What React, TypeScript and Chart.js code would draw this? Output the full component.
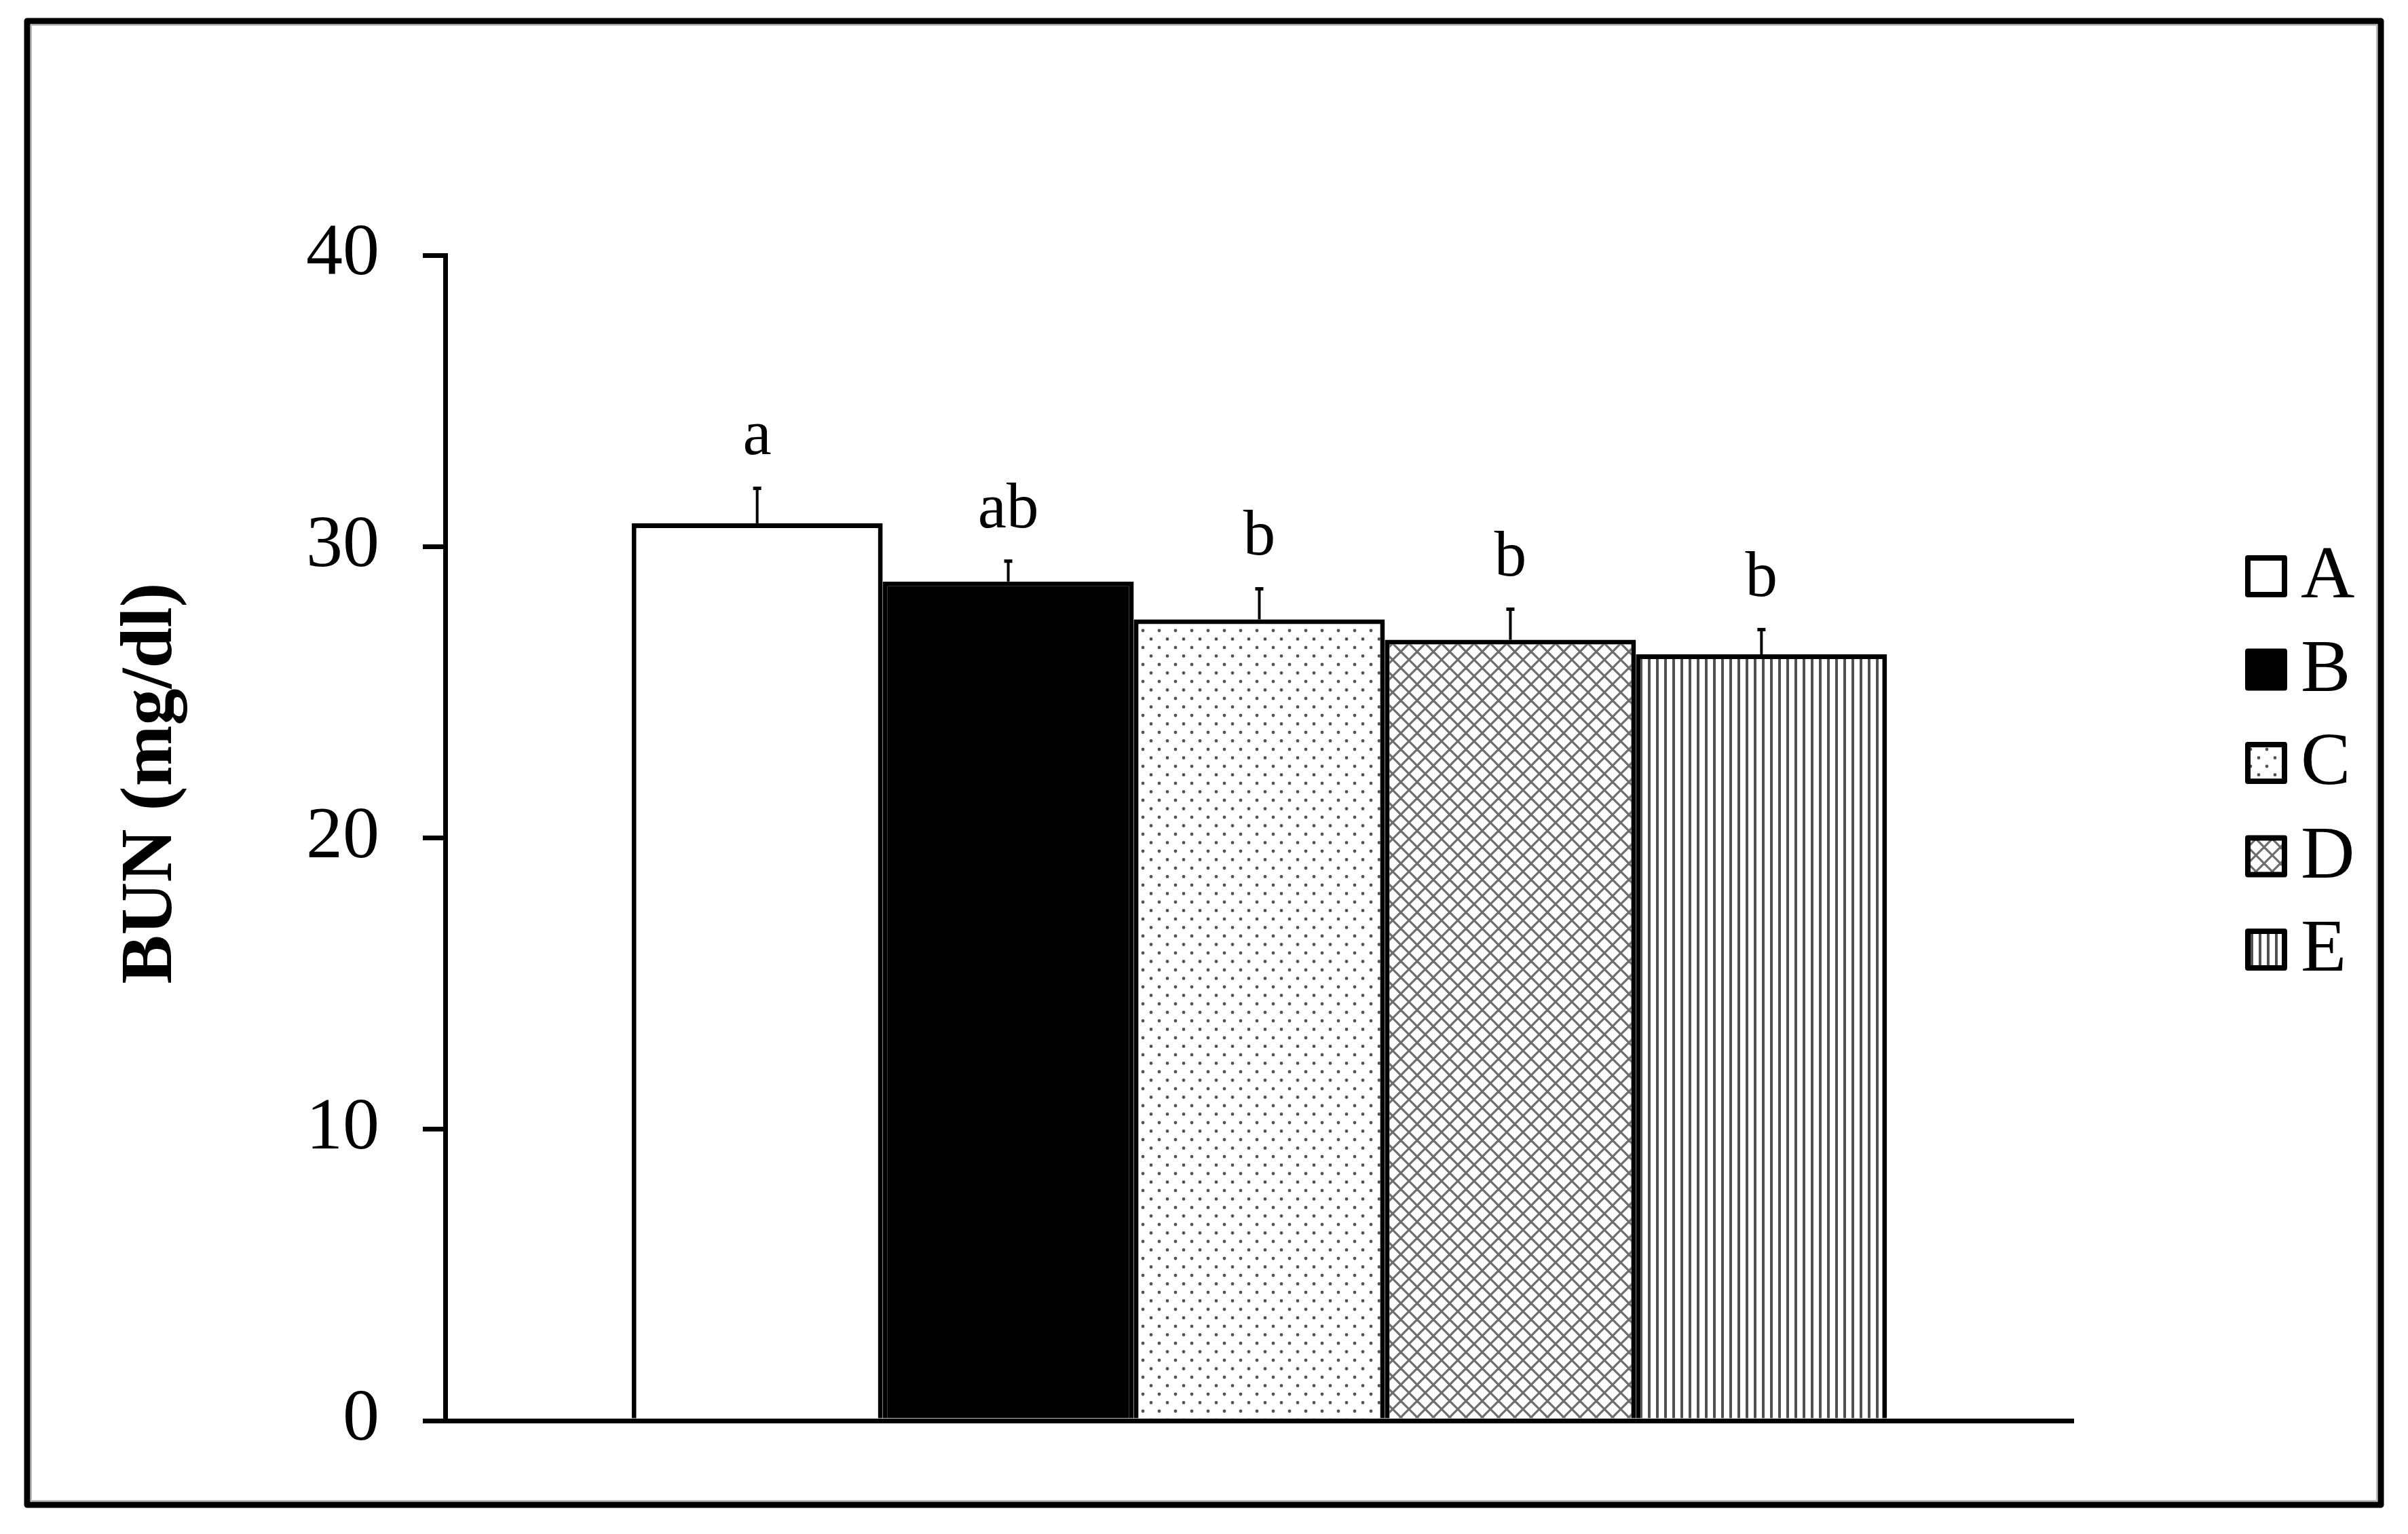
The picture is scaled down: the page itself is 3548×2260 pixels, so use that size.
import React, { useEffect, useRef } from 'react';
import { Chart, registerables } from 'chart.js';

Chart.register(...registerables);

// ---- data ----
const groups: string[] = ['A', 'B', 'C', 'D', 'E'];
const means: number[] = [30.8, 28.8, 27.5, 26.8, 26.3];
const errors: number[] = [1.2, 0.7, 1.05, 1.05, 0.85];
const letters: string[] = ['a', 'ab', 'b', 'b', 'b'];
const yTicks: number[] = [0, 10, 20, 30, 40];
const yTitle = 'BUN (mg/dl)';

const W = 3548;
const H = 2260;
const SERIF = '"Liberation Serif", "Times New Roman", serif';

function makeTile(w: number, h: number, draw: (c: CanvasRenderingContext2D) => void) {
  const cv = document.createElement('canvas');
  cv.width = w;
  cv.height = h;
  const c = cv.getContext('2d')!;
  c.fillStyle = '#ffffff';
  c.fillRect(0, 0, w, h);
  draw(c);
  return cv;
}

function makeFills(ctx: CanvasRenderingContext2D): (string | CanvasPattern)[] {
  const dots = makeTile(24, 25, (c) => {
    c.fillStyle = '#555555';
    c.beginPath();
    c.arc(4, 4, 2.4, 0, Math.PI * 2);
    c.fill();
    c.beginPath();
    c.arc(16, 16.5, 2.4, 0, Math.PI * 2);
    c.fill();
  });
  const cross = makeTile(24, 24, (c) => {
    c.strokeStyle = '#6e6e6e';
    c.lineWidth = 3.2;
    for (const off of [-24, 0, 24]) {
      c.beginPath();
      c.moveTo(off, 0);
      c.lineTo(off + 24, 24);
      c.stroke();
      c.beginPath();
      c.moveTo(off, 24);
      c.lineTo(off + 24, 0);
      c.stroke();
    }
  });
  const stripes = makeTile(12, 12, (c) => {
    c.fillStyle = '#505050';
    c.fillRect(4, 0, 4, 12);
  });
  return [
    '#ffffff',
    '#000000',
    ctx.createPattern(dots, 'repeat')!,
    ctx.createPattern(cross, 'repeat')!,
    ctx.createPattern(stripes, 'repeat')!,
  ];
}

const framePlugin = {
  id: 'frame',
  beforeDraw(chart: any) {
    const c = chart.ctx as CanvasRenderingContext2D;
    c.save();
    c.fillStyle = '#ffffff';
    c.fillRect(0, 0, chart.width, chart.height);
    c.strokeStyle = '#000000';
    c.lineWidth = 9;
    c.lineJoin = 'round';
    c.strokeRect(40, 31, 3468, 2186);
    c.strokeStyle = '#bbbbbb';
    c.lineWidth = 2;
    c.strokeRect(46, 37, 3456, 2174);
    c.restore();
  },
};

const errorPlugin = {
  id: 'errorLetters',
  afterDatasetsDraw(chart: any) {
    const c = chart.ctx as CanvasRenderingContext2D;
    const yScale = chart.scales.y;
    c.save();
    chart.data.datasets.forEach((_ds: any, i: number) => {
      const bar = chart.getDatasetMeta(i).data[0] as any;
      const top = yScale.getPixelForValue(means[i] + errors[i]);
      c.strokeStyle = '#000000';
      c.lineWidth = 4;
      c.beginPath();
      c.moveTo(bar.x, bar.y);
      c.lineTo(bar.x, top);
      c.stroke();
      c.lineWidth = 5;
      c.beginPath();
      c.moveTo(bar.x - 6, top);
      c.lineTo(bar.x + 6, top);
      c.stroke();
      c.fillStyle = '#000000';
      c.font = `95px ${SERIF}`;
      c.textAlign = 'center';
      c.textBaseline = 'alphabetic';
      c.fillText(letters[i], bar.x, top - 50);
    });
    c.restore();
  },
};

const titleLegendPlugin = {
  id: 'titleLegend',
  afterDraw(chart: any) {
    const c = chart.ctx as CanvasRenderingContext2D;
    c.save();
    // y-axis title
    c.save();
    c.translate(224, 1154);
    c.rotate(-Math.PI / 2);
    c.fillStyle = '#000000';
    c.font = `bold 108px ${SERIF}`;
    c.textAlign = 'center';
    c.textBaseline = 'middle';
    c.fillText(yTitle, 0, 0);
    c.restore();
    // legend
    chart.data.datasets.forEach((ds: any, i: number) => {
      const y0 = 818 + i * 137.5;
      c.fillStyle = ds.backgroundColor;
      c.fillRect(3312, y0 + 4, 54, 54);
      c.strokeStyle = '#000000';
      c.lineWidth = 8;
      c.lineJoin = 'round';
      c.strokeRect(3312, y0 + 4, 54, 54);
      c.fillStyle = '#000000';
      c.font = `110px ${SERIF}`;
      c.textAlign = 'left';
      c.textBaseline = 'alphabetic';
      c.fillText(ds.label, 3390, y0 + 62);
    });
    c.restore();
  },
};

export default function App() {
  const ref = useRef<HTMLCanvasElement | null>(null);

  useEffect(() => {
    const canvas = ref.current!;
    const ctx = canvas.getContext('2d')!;
    const fills = makeFills(ctx);
    const chart = new Chart(ctx, {
      type: 'bar',
      data: {
        labels: [''],
        datasets: groups.map((g, i) => ({
          label: g,
          data: [means[i]],
          backgroundColor: fills[i],
          borderColor: '#000000',
          borderWidth: 7,
          borderSkipped: 'start',
        })),
      },
      options: {
        responsive: false,
        maintainAspectRatio: false,
        animation: false,
        devicePixelRatio: 1,
        layout: { padding: { left: 0, right: 493, top: 376, bottom: 167 } },
        plugins: {
          legend: { display: false },
          tooltip: { enabled: false },
          title: { display: false },
        },
        datasets: {
          bar: { categoryPercentage: 0.771, barPercentage: 1 },
        },
        scales: {
          x: {
            grid: { display: false },
            ticks: { display: false },
            border: { display: true, color: '#000000', width: 7 },
            afterFit: (s: any) => {
              s.height = 0;
            },
          },
          y: {
            min: yTicks[0],
            max: yTicks[yTicks.length - 1],
            afterBuildTicks: (s: any) => {
              s.ticks = yTicks.map((v) => ({ value: v }));
            },
            ticks: {
              color: '#000000',
              padding: 64,
              font: { family: SERIF, size: 108 },
            },
            grid: {
              drawOnChartArea: false,
              drawTicks: true,
              tickLength: 33,
              color: '#000000',
              lineWidth: 7,
            },
            border: { display: true, color: '#000000', width: 7 },
            afterFit: (s: any) => {
              s.width = 656;
            },
          },
        },
      },
      plugins: [framePlugin, errorPlugin, titleLegendPlugin],
    } as any);
    return () => chart.destroy();
  }, []);

  return (
    <div style={{ position: 'absolute', left: 0, top: 0, width: W, height: H, background: '#fff' }}>
      <canvas ref={ref} width={W} height={H} style={{ display: 'block', width: W, height: H }} />
    </div>
  );
}
